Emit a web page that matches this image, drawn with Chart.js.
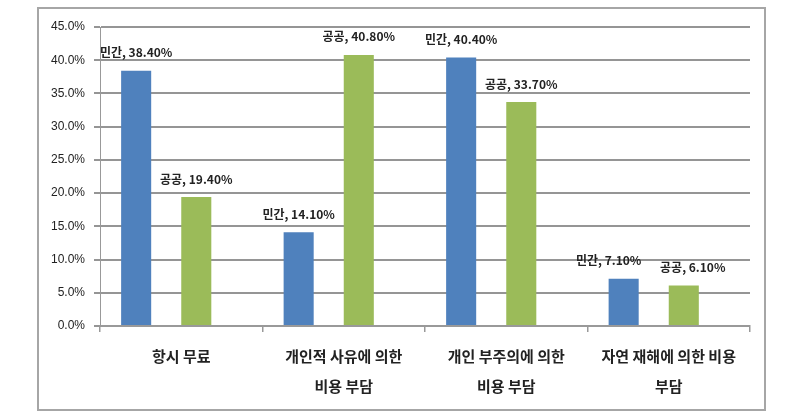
<!DOCTYPE html>
<html>
<head>
<meta charset="utf-8">
<script src="https://cdn.jsdelivr.net/npm/chart.js@4.4.1/dist/chart.umd.min.js"></script>
<style>
  html, body { margin: 0; padding: 0; background: #fff; }
  #box {
    position: absolute; left: 37px; top: 7px;
    width: 729px; height: 404px;
    box-sizing: border-box;
    border: 2px solid #a6a6a6;
  }
  #chart { display: block; }
</style>
</head>
<body>
<div id="box"><canvas id="chart" width="725" height="400"></canvas></div>
<script>
const categories = [
  ["항시 무료"],
  ["개인적 사유에 의한", "비용 부담"],
  ["개인 부주의에 의한", "비용 부담"],
  ["자연 재해에 의한 비용", "부담"]
];
const seriesNames = ["민간", "공공"];
const privateVals = [38.4, 14.1, 40.4, 7.1];
const publicVals = [19.4, 40.8, 33.7, 6.1];
const yTicks = [0, 5, 10, 15, 20, 25, 30, 35, 40, 45];

// nudges for the value labels (px), only the last group was moved apart
const labelShift = [[0, 0, 0, -15], [0, 0, 0, 9]];

const empty = categories.map(() => null);

// draws "민간, 38.40%" style labels above the bars
const valueLabels = {
  id: "valueLabels",
  afterDatasetsDraw(chart) {
    const ctx = chart.ctx;
    ctx.save();
    ctx.font = "bold 12px 'Noto Sans CJK KR', sans-serif";
    ctx.fillStyle = "#222";
    ctx.textAlign = "center";
    ctx.textBaseline = "middle";
    chart.data.datasets.forEach((ds, i) => {
      if (ds.seriesIndex === undefined) return;
      const meta = chart.getDatasetMeta(i);
      meta.data.forEach((bar, j) => {
        const v = ds.data[j];
        if (v == null) return;
        const txt = ds.label + ", " + v.toFixed(2) + "%";
        ctx.fillText(txt, bar.x + labelShift[ds.seriesIndex][j], bar.y - 18);
      });
    });
    ctx.restore();
  }
};

new Chart(document.getElementById("chart"), {
  type: "bar",
  data: {
    labels: categories,
    datasets: [
      { label: seriesNames[0], seriesIndex: 0, data: privateVals, backgroundColor: "#4f81bd" },
      { label: "", data: empty },
      { label: seriesNames[1], seriesIndex: 1, data: publicVals, backgroundColor: "#9bbb59" },
      { label: "", data: empty }
    ]
  },
  options: {
    responsive: false,
    animation: false,
    layout: { padding: { top: 18, right: 14, left: 0, bottom: 0 } },
    datasets: { bar: { categoryPercentage: 0.74, barPercentage: 1 } },
    plugins: {
      legend: { display: false },
      tooltip: { enabled: false }
    },
    scales: {
      x: {
        grid: { drawOnChartArea: false, tickLength: 6, color: "#999", lineWidth: 1.5 },
        border: { color: "#999", width: 2 },
        ticks: {
          color: "#222",
          padding: 9,
          font: { family: "'Noto Sans CJK KR', sans-serif", size: 15, weight: "bold", lineHeight: 2 }
        },
        afterFit(s) { s.height = 83; }
      },
      y: {
        min: 0,
        max: 45,
        afterBuildTicks(s) { s.ticks = yTicks.map(v => ({ value: v })); },
        grid: { color: "#959595", lineWidth: 2, tickLength: 6 },
        border: { color: "#999", width: 1 },
        ticks: {
          color: "#222",
          padding: 9,
          font: { family: "'Liberation Sans', Arial, sans-serif", size: 12 },
          callback: (v) => v.toFixed(1) + "%"
        },
        afterFit(s) { s.width = 61; }
      }
    }
  },
  plugins: [valueLabels]
});
</script>
</body>
</html>
